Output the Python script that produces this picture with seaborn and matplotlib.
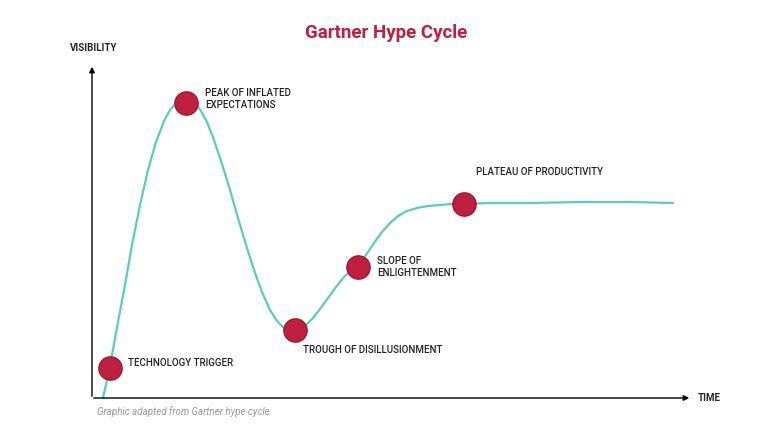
import matplotlib
matplotlib.use("Agg")
import matplotlib.pyplot as plt
import pandas as pd
import seaborn as sns

sns.set_style("white")
plt.rcParams['font.family'] = ['Roboto', 'DejaVu Sans']

# curve (pixel-like units, y grows downward)
curve_x = [103, 107, 112, 118, 125, 132, 140, 148, 156, 164, 170, 176, 181, 186, 191, 196,
           201, 207, 214, 222, 230, 238, 246, 254, 262, 270, 277, 284, 290, 295, 300, 306,
           313, 320, 328, 336, 344, 351, 358, 366, 374, 382, 390, 398, 407, 417, 428, 440,
           452, 464, 490, 530, 580, 630, 673]
curve_y = [398, 380, 355, 322, 285, 245, 205, 170, 142, 121, 110, 103, 100, 99, 100, 104,
           111, 122, 140, 164, 190, 218, 245, 270, 292, 310, 321, 328, 331, 332, 330, 325,
           318, 309, 298, 287, 277, 271, 265, 255, 243, 232, 223, 216, 211, 208, 206, 205,
           204, 204, 203, 203, 202, 202, 203]

phase_names = ["TECHNOLOGY TRIGGER", "PEAK OF INFLATED\nEXPECTATIONS", "TROUGH OF DISILLUSIONMENT",
               "SLOPE OF\nENLIGHTENMENT", "PLATEAU OF PRODUCTIVITY"]
phase_x = [110, 186, 295, 358, 464]
phase_y = [368, 103, 330, 267, 204]
label_x = [128, 205, 303, 377, 476]
label_y = [358, 88, 345, 256, 167]

TEAL = "#5ccdb8"
RED = "#c0203f"

fig = plt.figure(figsize=(7.68, 4.32), dpi=100)
ax = fig.add_axes([0, 0, 1, 1])

df = pd.DataFrame({"x": curve_x, "y": curve_y})
sns.lineplot(data=df, x="x", y="y", sort=False, color=TEAL, lw=1.6, ax=ax)
pts = pd.DataFrame({"x": phase_x, "y": phase_y})
sns.scatterplot(data=pts, x="x", y="y", s=280, color=RED, edgecolor="#a01530",
                linewidth=1, zorder=5, ax=ax)

for name, lx, ly in zip(phase_names, label_x, label_y):
    ax.text(lx, ly, name, fontsize=7, fontweight="medium", color="#222222",
            va="top", ha="left", linespacing=1.3)

# axes arrows
ax.annotate("", xy=(92, 64), xytext=(92, 399),
            arrowprops=dict(arrowstyle="-|>", color="black", lw=1, mutation_scale=8))
ax.annotate("", xy=(692, 398), xytext=(91, 398),
            arrowprops=dict(arrowstyle="-|>", color="black", lw=1, mutation_scale=8))

ax.text(70, 48, "VISIBILITY", fontsize=7, fontweight="bold", va="center")
ax.text(698, 398, "TIME", fontsize=7, fontweight="bold", va="center")
ax.text(386, 33, "Gartner Hype Cycle", fontsize=13.5, fontweight="bold", color=RED,
        ha="center", va="center")
ax.text(97, 412, "Graphic adapted from Gartner hype cycle", fontsize=7, style="italic",
        color="#999999", va="center")

ax.set_xlim(0, 768)
ax.set_ylim(432, 0)
ax.axis("off")
fig.savefig("out.png", dpi=100)
